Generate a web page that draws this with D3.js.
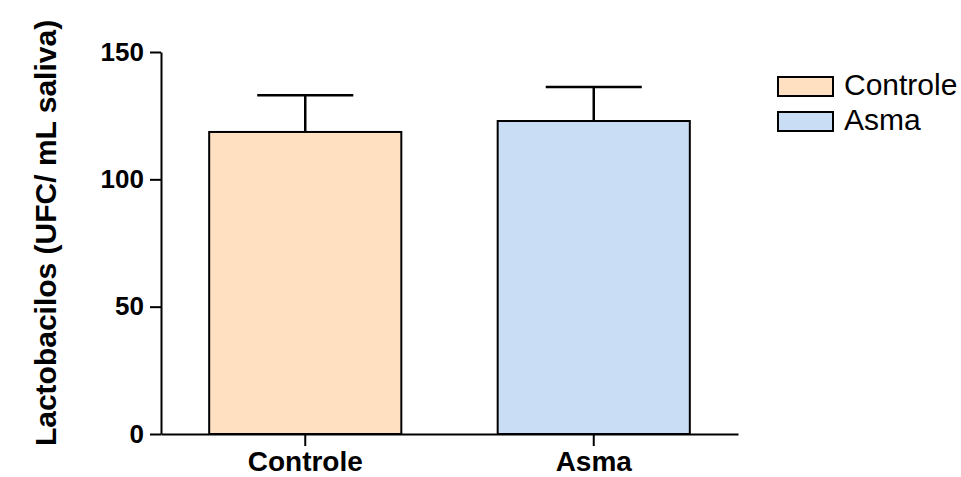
<!DOCTYPE html>
<html>
<head>
<meta charset="utf-8">
<script src="https://cdn.jsdelivr.net/npm/d3@7"></script>
<style>
  html, body { margin: 0; padding: 0; background: #fff; }
  svg { display: block; font-family: "Liberation Sans", Arial, sans-serif; }
</style>
</head>
<body>
<svg id="chart" width="961" height="477"></svg>
<script>
// Lactobacilli counts per group (mean and SEM)
const groups = ["Controle", "Asma"];
const means = [118.6, 122.9];
const errors = [14.4, 13.4];
const fills = ["#FFE0C0", "#C9DDF5"];
const yTicks = [0, 50, 100, 150];
const yTitle = "Lactobacilos (UFC/ mL saliva)";

const svg = d3.select("#chart");
const plotLeft = 161, plotRight = 738, plotTop = 52, plotBottom = 434;

const x = d3.scaleBand()
  .domain(groups)
  .range([plotLeft, plotRight])
  .paddingInner(0.334)
  .paddingOuter(0.167);

const y = d3.scaleLinear().domain([0, 150]).range([plotBottom, plotTop]);

const data = groups.map((g, i) => ({ g, mean: means[i], err: errors[i], fill: fills[i] }));

// error bars (upper half only, drawn behind the bars)
const eb = svg.append("g");
data.forEach(d => {
  const cx = x(d.g) + x.bandwidth() / 2;
  const half = x.bandwidth() / 4;
  eb.append("line")
    .attr("x1", cx).attr("x2", cx)
    .attr("y1", y(d.mean)).attr("y2", y(d.mean + d.err))
    .attr("stroke", "#000").attr("stroke-width", 2.5);
  eb.append("line")
    .attr("x1", cx - half).attr("x2", cx + half)
    .attr("y1", y(d.mean + d.err)).attr("y2", y(d.mean + d.err))
    .attr("stroke", "#000").attr("stroke-width", 2.5);
});

// bars
svg.append("g").selectAll("rect")
  .data(data)
  .join("rect")
  .attr("x", d => x(d.g))
  .attr("y", d => y(d.mean))
  .attr("width", x.bandwidth())
  .attr("height", d => y(0) - y(d.mean))
  .attr("fill", d => d.fill)
  .attr("stroke", "#000")
  .attr("stroke-width", 2);

// y axis
const yAxis = svg.append("g")
  .attr("transform", `translate(${plotLeft},0)`)
  .call(d3.axisLeft(y).tickValues(yTicks).tickSize(11).tickPadding(6).tickSizeOuter(0));
yAxis.select(".domain").attr("stroke", "#000").attr("stroke-width", 2);
yAxis.selectAll(".tick line").attr("stroke", "#000").attr("stroke-width", 2);
yAxis.selectAll(".tick text")
  .attr("font-family", "Liberation Sans, Arial, sans-serif")
  .attr("font-size", 26).attr("font-weight", "bold").attr("fill", "#000");

// x axis
const xAxis = svg.append("g")
  .attr("transform", `translate(0,${plotBottom})`)
  .call(d3.axisBottom(x).tickSize(12).tickPadding(5).tickSizeOuter(0));
xAxis.select(".domain").attr("stroke", "#000").attr("stroke-width", 2);
xAxis.selectAll(".tick line").attr("stroke", "#000").attr("stroke-width", 2);
xAxis.selectAll(".tick text")
  .attr("font-family", "Liberation Sans, Arial, sans-serif")
  .attr("font-size", 28).attr("font-weight", "bold").attr("fill", "#000");

// y axis title
svg.append("text")
  .attr("transform", "translate(56,233) rotate(-90)")
  .attr("text-anchor", "middle")
  .attr("font-size", 30)
  .attr("font-weight", "bold")
  .attr("fill", "#000")
  .text(yTitle);

// legend
const legend = svg.append("g").attr("transform", "translate(778,77)");
data.forEach((d, i) => {
  const row = legend.append("g").attr("transform", `translate(0,${i * 35})`);
  row.append("rect")
    .attr("x", 0).attr("y", 0).attr("width", 55).attr("height", 19)
    .attr("fill", d.fill).attr("stroke", "#000").attr("stroke-width", 2);
  row.append("text")
    .attr("x", 66).attr("y", 18)
    .attr("font-size", 30).attr("fill", "#000")
    .text(d.g);
});
</script>
</body>
</html>
